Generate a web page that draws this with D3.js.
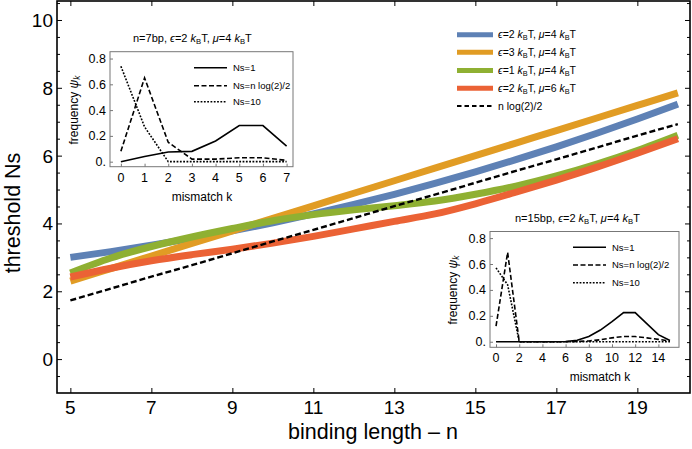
<!DOCTYPE html>
<html>
<head>
<meta charset="utf-8">
<script src="https://cdn.jsdelivr.net/npm/d3@7"></script>
<style>
  body { margin: 0; background: #fff; }
  svg { font-family: "Liberation Sans", Arial, sans-serif; }
</style>
</head>
<body>
<svg id="chart" width="692" height="449"></svg>
<script>
// main panel data: threshold Ns vs binding length n
var lengths = [5, 6, 7, 8, 9, 10, 11, 12, 13, 14, 15, 16, 17, 18, 19, 20];
var nsEps2Mu4 = [3.00, 3.17, 3.36, 3.56, 3.78, 4.02, 4.28, 4.56, 4.86, 5.18, 5.52, 5.88, 6.26, 6.66, 7.08, 7.52];
var nsEps3Mu4 = [2.30, 2.67, 3.04, 3.41, 3.78, 4.15, 4.52, 4.89, 5.26, 5.63, 6.00, 6.37, 6.74, 7.11, 7.48, 7.85];
var nsEps1Mu4 = [2.54, 2.98, 3.32, 3.60, 3.85, 4.08, 4.26, 4.40, 4.52, 4.66, 4.86, 5.10, 5.40, 5.75, 6.15, 6.60];
var nsEps2Mu6 = [2.42, 2.68, 2.90, 3.08, 3.24, 3.42, 3.62, 3.84, 4.06, 4.28, 4.58, 4.92, 5.28, 5.66, 6.07, 6.50];
var nsLog = [1.73, 2.08, 2.43, 2.77, 3.12, 3.47, 3.81, 4.16, 4.51, 4.85, 5.20, 5.55, 5.89, 6.24, 6.59, 6.93];
var mainXTicks = [5, 7, 9, 11, 13, 15, 17, 19];
var mainYTicks = [0, 2, 4, 6, 8, 10];

// inset 1: n=7bp
var k7 = [0, 1, 2, 3, 4, 5, 6, 7];
var psi7Ns1 = [0.00, 0.04, 0.075, 0.08, 0.16, 0.28, 0.28, 0.12];
var psi7NsLog = [0.08, 0.65, 0.15, 0.02, 0.02, 0.03, 0.03, 0.01];
var psi7Ns10 = [0.74, 0.27, 0.00, 0.00, 0.00, 0.00, 0.00, 0.00];
var inset1XTicks = [0, 1, 2, 3, 4, 5, 6, 7];

// inset 2: n=15bp
var k15 = [0, 1, 2, 3, 4, 5, 6, 7, 8, 9, 10, 11, 12, 13, 14, 15];
var psi15Ns1 = [0, 0, 0, 0, 0, 0, 0.002, 0.012, 0.04, 0.09, 0.155, 0.225, 0.225, 0.14, 0.055, 0.01];
var psi15NsLog = [0.12, 0.69, 0, 0, 0, 0, 0, 0.002, 0.006, 0.015, 0.03, 0.04, 0.04, 0.03, 0.018, 0.005];
var psi15Ns10 = [0.57, 0.44, 0, 0, 0, 0, 0, 0, 0, 0, 0, 0, 0, 0, 0, 0];
var inset2XTicks = [0, 2, 4, 6, 8, 10, 12, 14];
var insetYTicks = [0, 0.2, 0.4, 0.6, 0.8];

var colors = { blue: "#5E81B5", orange: "#E19C24", green: "#8FB032", red: "#EB6235" };

var svg = d3.select("#chart");

var x = d3.scaleLinear().domain([4.67, 20.3]).range([57, 690]);
var y = d3.scaleLinear().domain([-1, 10.56]).range([393, 1]);

// frame ticks (inward, all four sides)
var axisG = svg.append("g");
axisG.append("g").attr("transform", "translate(0,393)")
    .call(d3.axisBottom(x).tickValues(mainXTicks).tickSize(-5).tickFormat(""));
axisG.append("g").attr("transform", "translate(0,1)")
    .call(d3.axisTop(x).tickValues(mainXTicks).tickSize(-5).tickFormat(""));
var minorY = d3.range(-0.5, 10.51, 0.5).filter(function (v) { return v % 2 !== 0; });
axisG.append("g").attr("transform", "translate(57,0)")
    .call(d3.axisLeft(y).tickValues(mainYTicks).tickSize(-5).tickFormat(""));
axisG.append("g").attr("transform", "translate(57,0)")
    .call(d3.axisLeft(y).tickValues(minorY).tickSize(-3).tickFormat(""));
axisG.append("g").attr("transform", "translate(690,0)")
    .call(d3.axisRight(y).tickValues(mainYTicks).tickSize(-5).tickFormat(""));
axisG.append("g").attr("transform", "translate(690,0)")
    .call(d3.axisRight(y).tickValues(minorY).tickSize(-3).tickFormat(""));
axisG.selectAll(".domain").remove();
axisG.selectAll("line").attr("stroke", "#000").attr("stroke-width", 1);

// tick labels
svg.append("g").selectAll("text").data(mainXTicks).enter().append("text")
    .attr("x", function (d) { return x(d); }).attr("y", 414)
    .attr("text-anchor", "middle").style("font-size", "19px").text(function (d) { return d; });
svg.append("g").selectAll("text").data(mainYTicks).enter().append("text")
    .attr("x", 53).attr("y", function (d) { return y(d) + 7; })
    .attr("text-anchor", "end").style("font-size", "19px").text(function (d) { return d; });

svg.append("text").attr("x", 373).attr("y", 439).attr("text-anchor", "middle")
    .style("font-size", "21.5px").text("binding length \u2013 n");
svg.append("text").attr("transform", "translate(20,213) rotate(-90)").attr("text-anchor", "middle")
    .style("font-size", "21.5px").text("threshold Ns");

// main curves
var mainLine = function (vals) {
    return d3.line().x(function (d, i) { return x(lengths[i]); }).y(function (d) { return y(d); })
        .curve(d3.curveMonotoneX)(vals);
};
var mainSeries = [
    { vals: nsEps2Mu4, color: colors.blue },
    { vals: nsEps3Mu4, color: colors.orange },
    { vals: nsEps1Mu4, color: colors.green },
    { vals: nsEps2Mu6, color: colors.red }
];
mainSeries.forEach(function (s) {
    svg.append("path").attr("d", mainLine(s.vals)).attr("fill", "none")
        .attr("stroke", s.color).attr("stroke-width", 7);
});
svg.append("path").attr("d", mainLine(nsLog)).attr("fill", "none")
    .attr("stroke", "#000").attr("stroke-width", 2.4).attr("stroke-dasharray", "6,3");

// frame
svg.append("rect").attr("x", 57).attr("y", 1).attr("width", 633).attr("height", 392)
    .attr("fill", "none").attr("stroke", "#000").attr("stroke-width", 1.6);

// helper for "eps=.. kBT, mu=.. kBT" labels
function energyText(sel, e, m) {
    sel.append("tspan").style("font-style", "italic").text("\u03f5");
    sel.append("tspan").text("=" + e + " ");
    sel.append("tspan").style("font-style", "italic").text("k");
    sel.append("tspan").attr("dy", 2).style("font-size", "0.7em").text("B");
    sel.append("tspan").attr("dy", -2).text("T, ");
    sel.append("tspan").style("font-style", "italic").text("\u03bc");
    sel.append("tspan").text("=" + m + " ");
    sel.append("tspan").style("font-style", "italic").text("k");
    sel.append("tspan").attr("dy", 2).style("font-size", "0.7em").text("B");
    sel.append("tspan").attr("dy", -2).text("T");
}

// main legend
var legendItems = [
    { e: 2, m: 4, color: colors.blue },
    { e: 3, m: 4, color: colors.orange },
    { e: 1, m: 4, color: colors.green },
    { e: 2, m: 6, color: colors.red },
    { dashed: true }
];
var legendY = [34.7, 52.3, 70.5, 88.3, 106];
legendItems.forEach(function (item, i) {
    var ly = legendY[i];
    var ln = svg.append("line").attr("x1", 457).attr("x2", 493).attr("y1", ly).attr("y2", ly);
    var t = svg.append("text").attr("x", 498).attr("y", ly + 3.5).style("font-size", "10.5px");
    if (item.dashed) {
        ln.attr("stroke", "#000").attr("stroke-width", 1.8).attr("stroke-dasharray", "4.5,3");
        t.text("n log(2)/2");
    } else {
        ln.attr("stroke", item.color).attr("stroke-width", 5);
        energyText(t, item.e, item.m);
    }
});

// insets
function drawInset(cfg) {
    var g = svg.append("g");
    var ix = d3.scaleLinear().domain(cfg.xDomain).range([cfg.left, cfg.right]);
    var iy = d3.scaleLinear().domain(cfg.yDomain).range([cfg.bottom, cfg.top]);
    g.append("rect").attr("x", cfg.left).attr("y", cfg.top)
        .attr("width", cfg.right - cfg.left).attr("height", cfg.bottom - cfg.top)
        .attr("fill", "#fff").attr("stroke", "#777").attr("stroke-width", 1);

    var ax = g.append("g");
    ax.append("g").attr("transform", "translate(0," + cfg.bottom + ")")
        .call(d3.axisBottom(ix).tickValues(cfg.xTicks).tickSize(-3).tickFormat(""));
    ax.append("g").attr("transform", "translate(" + cfg.left + ",0)")
        .call(d3.axisLeft(iy).tickValues(insetYTicks).tickSize(-3).tickFormat(""));
    ax.selectAll(".domain").remove();
    ax.selectAll("line").attr("stroke", "#777");

    g.append("g").selectAll("text").data(cfg.xTicks).enter().append("text")
        .attr("x", function (d) { return ix(d); }).attr("y", cfg.bottom + 15)
        .attr("text-anchor", "middle").style("font-size", "12.5px").text(function (d) { return d; });
    g.append("g").selectAll("text").data(insetYTicks).enter().append("text")
        .attr("x", cfg.left - 4).attr("y", function (d) { return iy(d) + 4.5; })
        .attr("text-anchor", "end").style("font-size", "12.5px")
        .text(function (d) { return d === 0 ? "0." : d3.format(".1f")(d); });

    g.append("text").attr("x", cfg.xLabelX).attr("y", cfg.bottom + 34).attr("text-anchor", "middle")
        .style("font-size", "12px").text("mismatch k");
    var yl = g.append("text").attr("transform", "translate(" + cfg.yLabelX + "," + cfg.yLabelY + ") rotate(-90)")
        .attr("text-anchor", "middle").style("font-size", "12px");
    yl.append("tspan").text("frequency ");
    yl.append("tspan").style("font-style", "italic").text("\u03c8");
    yl.append("tspan").attr("dy", 2).style("font-size", "0.7em").style("font-style", "italic").text("k");

    var title = g.append("text").attr("x", cfg.titleX).attr("y", cfg.top - 10).style("font-size", "11px");
    title.append("tspan").text("n=" + cfg.n + "bp, ");
    energyText(title, 2, 4);

    var styles = [
        { vals: cfg.s1, dash: null, name: "Ns=1" },
        { vals: cfg.s2, dash: "5,2.5", name: "Ns=n log(2)/2" },
        { vals: cfg.s3, dash: "1.8,1.5", name: "Ns=10" }
    ];
    var line = d3.line().x(function (d, i) { return ix(cfg.k[i]); }).y(function (d) { return iy(d); });
    styles.forEach(function (s, i) {
        var p = g.append("path").attr("d", line(s.vals)).attr("fill", "none")
            .attr("stroke", "#000").attr("stroke-width", 1.6);
        if (s.dash) p.attr("stroke-dasharray", s.dash);
        var ly = cfg.legendY[i];
        var l = g.append("line").attr("x1", cfg.legendX).attr("x2", cfg.legendX + 33)
            .attr("y1", ly).attr("y2", ly).attr("stroke", "#000").attr("stroke-width", 1.6);
        if (s.dash) l.attr("stroke-dasharray", s.dash);
        g.append("text").attr("x", cfg.legendX + 39).attr("y", ly + 3.2)
            .style("font-size", "9.5px").text(s.name);
    });
}

drawInset({
    n: 7, k: k7, s1: psi7Ns1, s2: psi7NsLog, s3: psi7Ns10, xTicks: inset1XTicks,
    xDomain: [-0.46, 7.27], yDomain: [-0.039, 0.853],
    left: 110, right: 293, top: 51.7, bottom: 166.7,
    xLabelX: 202, yLabelX: 78, yLabelY: 110, titleX: 133,
    legendX: 194, legendY: [67.7, 85.7, 101.7]
});
drawInset({
    n: 15, k: k15, s1: psi15Ns1, s2: psi15NsLog, s3: psi15Ns10, xTicks: inset2XTicks,
    xDomain: [-0.52, 15.78], yDomain: [-0.043, 0.851],
    left: 490, right: 679, top: 231.5, bottom: 347.3,
    xLabelX: 600, yLabelX: 457, yLabelY: 290, titleX: 515,
    legendX: 573, legendY: [247.3, 265, 282.7]
});
</script>
</body>
</html>
